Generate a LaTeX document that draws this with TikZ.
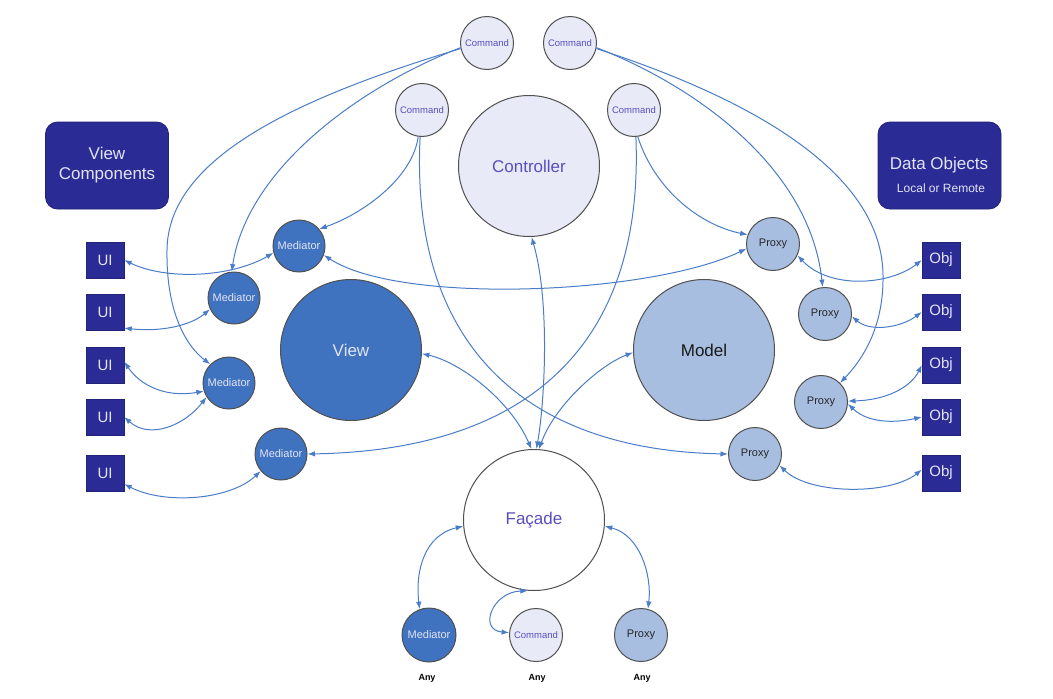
\documentclass[tikz,border=0pt]{standalone}
\usepackage{fontspec}
\setmainfont{Liberation Sans}
\usetikzlibrary{arrows.meta}

\definecolor{cmdfill}{RGB}{232,235,247}
\definecolor{cmdtext}{RGB}{88,78,192}
\definecolor{viewfill}{RGB}{63,114,191}
\definecolor{modelfill}{RGB}{168,190,224}
\definecolor{navy}{RGB}{43,43,150}
\definecolor{wire}{RGB}{74,124,200}
\definecolor{rim}{RGB}{80,80,80}
\definecolor{pale}{RGB}{226,228,246}

\begin{document}
\begin{tikzpicture}[x=1pt,y=1pt,
    every node/.style={inner sep=0pt},
    >={Latex[length=7.5pt,width=5.5pt]},
    conn/.style={draw=wire, line width=1pt},
    circ/.style={circle, draw=rim, line width=1pt},
    cmd/.style={circ, fill=cmdfill, text=cmdtext, minimum size=53pt, font=\fontsize{9.5}{11}\selectfont},
    med/.style={circ, fill=viewfill, text=pale, minimum size=52pt, font=\fontsize{11}{13}\selectfont},
    prx/.style={circ, fill=modelfill, text=black!85, minimum size=53pt, font=\fontsize{11}{13}\selectfont},
    core/.style={circ, minimum size=141pt, font=\fontsize{17}{20}\selectfont},
    blk/.style={draw=navy!80!black, fill=navy, text=pale, minimum width=38pt, minimum height=36pt, font=\fontsize{15}{17}\selectfont},
    bigbox/.style={draw=navy!80!black, line width=0.8pt, fill=navy, rounded corners=12pt, minimum width=123pt, minimum height=87pt},
    anylbl/.style={font=\bfseries\fontsize{9}{11}\selectfont}
  ]
  \useasboundingbox (0,0) rectangle (1053,-699);

  % Legends
  \node[bigbox, text=pale, align=center, font=\fontsize{17}{20}\selectfont] (vcbox) at (107,-165.5) {View\\Components};
  \node[bigbox] (dobox) at (939.5,-165.5) {};
  \node[text=pale, font=\fontsize{17}{20}\selectfont] (dotitle) at (939,-165) {Data Objects};
  \node[text=pale, font=\fontsize{12}{14}\selectfont] (dosub) at (941,-188) {Local or Remote};

  % Core actors
  \node[core, fill=cmdfill, text=cmdtext] (ctrl) at (529,-166) {Controller};
  \node[core, fill=viewfill, text=pale] (view) at (351,-350) {View};
  \node[core, fill=modelfill, text=black!90] (model) at (704,-350) {Model};
  \node[core, fill=white, text=cmdtext] (facade) at (534,-520) {Façade};

  % Commands
  \node[cmd] (cmdA) at (487,-43) {Command};
  \node[cmd] (cmdB) at (570,-43) {Command};
  \node[cmd] (cmdC) at (422,-110) {Command};
  \node[cmd] (cmdD) at (634,-110) {Command};

  % Mediators and Proxies
  \node[med] (med1) at (299,-246) {Mediator};
  \node[med] (med2) at (234,-298) {Mediator};
  \node[med] (med3) at (229,-383) {Mediator};
  \node[med] (med4) at (281,-454) {Mediator};
  \node[prx] (prx1) at (773,-244) {Proxy};
  \node[prx] (prx2) at (825,-314) {Proxy};
  \node[prx] (prx3) at (821,-402) {Proxy};
  \node[prx] (prx4) at (755,-454) {Proxy};

  % UI and Obj boxes
  \foreach \i/\y in {1/260,2/312,3/365,4/417,5/473} {
    \node[blk] (ui\i) at (105,-\y) {UI};
    \node[blk] (obj\i) at (941,-\y) {Obj};
  }

  % Any actors
  \node[med, minimum size=54pt] (bmed) at (429,-635) {Mediator};
  \node[cmd] (bcmd) at (536,-635) {Command};
  \node[prx] (bprx) at (641,-635) {Proxy};
  \node[anylbl] (any1) at (427,-678) {Any};
  \node[anylbl] (any2) at (537,-678) {Any};
  \node[anylbl] (any3) at (642,-678) {Any};

  % Commands to Mediators and Proxies
  \draw[conn,->] (cmdA.190) .. controls (357,-88) and (247,-170) .. (med2.95);
  \draw[conn,->] (cmdA.192) .. controls (290,-100) and (168,-160) .. (167,-250) .. controls (166,-310) and (185,-345) .. (med3.135);
  \draw[conn,->] (cmdB.350) .. controls (700,-88) and (810,-170) .. (prx2.95);
  \draw[conn,->] (cmdB.348) .. controls (770,-105) and (882,-180) .. (883,-275) .. controls (884,-330) and (860,-362) .. (prx3.45);
  \draw[conn,->] (cmdC.262) .. controls (412,-180) and (360,-215) .. (med1.40);
  \draw[conn,->] (cmdC.266) .. controls (410,-340) and (520,-450) .. (prx4.west);
  \draw[conn,->] (cmdD.278) .. controls (655,-190) and (700,-225) .. (prx1.160);
  \draw[conn,->] (cmdD.274) .. controls (644,-340) and (534,-450) .. (med4.east);

  % Controller, View and Model to Facade
  \draw[conn,<->] (ctrl.272) .. controls (550,-300) and (545,-400) .. (facade.88);
  \draw[conn,<->] (view.357) .. controls (460,-362) and (510,-400) .. (facade.92);
  \draw[conn,<->] (model.182) .. controls (600,-365) and (555,-405) .. (facade.86);

  % Mediator to Proxy
  \draw[conn,<->] (med1.340) .. controls (400,-305) and (650,-295) .. (prx1.190);

  % UI to Mediators
  \draw[conn,<->] (ui1.east) .. controls (165,-280) and (230,-278) .. (med1.195);
  \draw[conn,<->] (ui2.-40) .. controls (160,-332) and (190,-326) .. (med2.205);
  \draw[conn,<->] (ui3.10) .. controls (140,-385) and (165,-398) .. (med3.198);
  \draw[conn,<->] (ui4.east) .. controls (150,-440) and (185,-425) .. (med3.212);
  \draw[conn,<->] (ui5.-30) .. controls (165,-505) and (230,-500) .. (med4.220);

  % Proxies to Obj
  \draw[conn,<->] (prx1.335) .. controls (830,-290) and (890,-285) .. (obj1.west);
  \draw[conn,<->] (prx2.355) .. controls (870,-332) and (900,-328) .. (obj2.west);
  \draw[conn,<->] (prx3.2) .. controls (890,-400) and (912,-385) .. (obj3.west);
  \draw[conn,<->] (prx3.356) .. controls (870,-425) and (900,-422) .. (obj4.west);
  \draw[conn,<->] (prx4.335) .. controls (810,-495) and (890,-495) .. (obj5.170);

  % Facade to Any
  \draw[conn,<->] (facade.185) .. controls (425,-535) and (415,-570) .. (bmed.110);
  \draw[conn,<->] (facade.355) .. controls (640,-535) and (652,-575) .. (bprx.75);
  \draw[conn,<->] (facade.265) .. controls (492,-592) and (478,-630) .. (bcmd.175);
\end{tikzpicture}
\end{document}
